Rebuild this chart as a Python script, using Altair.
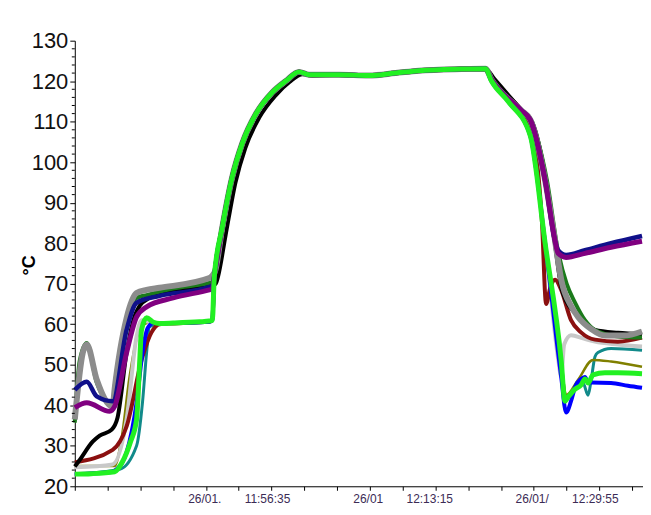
import altair as alt
import pandas as pd

# ---- data (time in seconds from start of axis, temperature in °C) ----
mid_t = [1021, 1106, 1204, 1289, 1368, 1429, 1611, 1793, 1957, 2097, 2359, 2505]
mid_v = [104.6, 112, 117.2, 120.1, 122.3, 121.6, 121.6, 121.4, 122, 122.6, 123, 123.1]

lower_rise_t = [839, 851, 900, 960]
lower_rise_v = [61, 71.7, 84, 96.3]
upper_rise_t = [855, 900, 960]
upper_rise_v = [73, 84, 96.3]

fast_drop_t = [2541, 2644, 2778, 2869]
fast_drop_v = [120.1, 115, 106.6, 80]
slow_drop_t = [2541, 2723, 2778, 2869, 2930]
slow_drop_v = [120.5, 112.8, 110.5, 95.5, 80.5]

teal_t = [0, 274, 377, 413, 438, 456, 517, 760, 821] + lower_rise_t + mid_t + fast_drop_t + [2967, 2997, 3052, 3100, 3131, 3149, 3173, 3191, 3271, 3460]
teal_v = [23, 24.2, 30, 40.7, 53, 59.4, 60.2, 60.5, 60.6] + lower_rise_v + mid_v + fast_drop_v + [51, 41.5, 44, 45.5, 42.5, 46, 52, 53, 54, 53.6]

olive_t = [0, 243, 286, 334, 395, 456, 600, 821] + lower_rise_t + mid_t + fast_drop_t + [2967, 2997, 3070, 3161, 3271, 3460]
olive_v = [25, 25, 32, 47, 58.6, 60.5, 60.3, 60.6] + lower_rise_v + mid_v + fast_drop_v + [51, 42.5, 46.3, 51.2, 50.8, 49.5]

lgrey_t = [0, 231, 316, 377, 407, 480, 600, 821] + lower_rise_t + mid_t + fast_drop_t + [2950, 2967, 2985, 3027, 3100, 3173, 3313, 3460]
lgrey_v = [24.7, 25.4, 36.5, 57, 61, 60.3, 60.3, 60.6] + lower_rise_v + mid_v + fast_drop_v + [51, 47, 55, 57.3, 56.5, 55.7, 55, 54.5]

maroon_t = [0, 231, 316, 413, 468, 517, 600, 760, 821] + lower_rise_t + mid_t + [2541, 2723, 2778, 2850, 2875, 2900, 2930, 2967, 3027, 3088, 3173, 3313, 3460]
maroon_v = [25.9, 29, 34.8, 52, 58, 60, 60.2, 60.5, 60.6] + lower_rise_v + mid_v + [120.5, 112.8, 109, 85, 65, 69, 71, 68.5, 61, 58, 56.2, 55.7, 56.7]

black_t = [0, 30, 109, 152, 225, 261, 316, 365, 395, 456, 578, 760, 821, 860, 875, 920, 980, 1040, 1125, 1225, 1310, 1390, 1450] + mid_t[6:] + [2560, 2723, 2790, 2880, 2930, 2967, 3000, 3052, 3112, 3173, 3313, 3460]
black_v = [24.9, 26.5, 31, 32.5, 34, 37, 53, 62, 64.5, 66.5, 68, 69, 69.5, 70, 72, 82, 95, 103.5, 111, 116.5, 119.8, 121.7, 121.3] + mid_v[6:] + [120.5, 113, 110, 94, 79.5, 69.2, 65.5, 62.8, 60, 58.6, 57.9, 57.6]

green_t = [0, 30, 73, 134, 231, 243, 316, 377, 438, 600, 821, 839] + upper_rise_t + mid_t + [2541, 2723, 2778, 2880, 2948, 3000, 3052, 3112, 3173, 3313, 3460]
green_v = [35.7, 51, 55.4, 45.6, 40.2, 44.6, 61, 66.5, 67.2, 68.8, 70.2, 70.4] + upper_rise_v + mid_v + [120.5, 112.8, 110.5, 95.5, 78, 70, 65.3, 61, 58.6, 57, 56.7]

grey_t = [0, 49, 73, 134, 231, 243, 316, 377, 438, 517, 821, 839] + upper_rise_t + mid_t + slow_drop_t + [2967, 3027, 3070, 3150, 3234, 3350, 3460]
grey_v = [36.5, 53, 55, 46.3, 39.7, 44, 61.5, 67.7, 68.5, 69, 71.4, 72] + upper_rise_v + mid_v + slow_drop_v + [71, 64.5, 61.8, 58.8, 57.2, 57.2, 58.2]

navy_t = [0, 73, 134, 231, 316, 377, 517, 821, 839] + upper_rise_t + mid_t + slow_drop_t + [2948, 2997, 3112, 3271, 3460]
navy_v = [43.8, 45.8, 42.2, 41, 58.6, 65.3, 67, 69.2, 69.5] + upper_rise_v + mid_v + slow_drop_v + [78.3, 77.1, 78.3, 80, 81.8]

purple_t = [0, 73, 213, 243, 316, 377, 438, 600, 821, 839] + upper_rise_t + mid_t + slow_drop_t + [2948, 2997, 3112, 3271, 3460]
purple_v = [39.4, 40.6, 38.5, 39.7, 53, 61.8, 64.3, 66.5, 68.5, 68.7] + upper_rise_v + mid_v + slow_drop_v + [77.5, 76.5, 77.5, 79, 80.5]

blue_t = [0, 225, 255, 316, 377, 413, 444, 480, 600, 821] + lower_rise_t + mid_t + fast_drop_t + [2967, 2997, 3027, 3052, 3088, 3112, 3131, 3149, 3271, 3374, 3460]
blue_v = [23, 23.5, 24.2, 28.4, 40.7, 53, 59, 60.3, 60.3, 60.6] + lower_rise_v + mid_v + fast_drop_v + [47, 38.2, 41, 44.5, 46.5, 47, 45.6, 45.6, 45.5, 44.8, 44.3]

lime_t = [0, 100, 243, 290, 340, 377, 395, 407, 438, 480, 517, 600, 760, 821] + lower_rise_t + mid_t + fast_drop_t + [2967, 2990, 3009, 3052, 3088, 3112, 3131, 3161, 3234, 3313, 3460]
lime_v = [23, 23.1, 23.6, 26, 31, 36.5, 50, 58.6, 61.6, 60.5, 60.2, 60.3, 60.6, 60.8] + lower_rise_v + mid_v + fast_drop_v + [51, 41, 42, 44, 45, 46.5, 45.5, 47.5, 48, 48, 47.8]

series = [
    ("teal", teal_t, teal_v, "#118a8a", 3),
    ("olive", olive_t, olive_v, "#808000", 2.5),
    ("lightgrey", lgrey_t, lgrey_v, "#c8c8c8", 4),
    ("maroon", maroon_t, maroon_v, "#8b1010", 4),
    ("black", black_t, black_v, "#000000", 4),
    ("green", green_t, green_v, "#1a7a1a", 4),
    ("grey", grey_t, grey_v, "#8c8c8c", 6),
    ("navy", navy_t, navy_v, "#10108a", 4.5),
    ("purple", purple_t, purple_v, "#800080", 5),
    ("blue", blue_t, blue_v, "#0000ff", 4),
    ("lime", lime_t, lime_v, "#22f022", 5),
]

y_major = list(range(20, 131, 10))
y_minor = [v for v in range(22, 130, 2) if v % 10 != 0]
x_ticks = list(range(0, 3401, 200))
nb = "\u00a0" * 7
x_labels = {1000: "26/01." + nb + "11:56:35", 2000: "26/01" + nb + "12:13:15", 3000: "26/01/" + nb + "12:29:55"}

label_expr = " : ".join(f"datum.value == {k} ? '{v}'" for k, v in x_labels.items()) + " : ''"

x_scale = alt.Scale(domain=[0, 3466], nice=False, zero=False)
y_scale = alt.Scale(domain=[20, 130], nice=False, zero=False)

x_axis = alt.Axis(values=x_ticks, labelExpr=label_expr, title=None, grid=False,
                  labelOverlap=False, labelFlush=False, tickSize=4, tickColor="black",
                  domainColor="black", labelColor="#3b2b55", labelFontSize=12,
                  labelFont="Liberation Sans", labelPadding=3)
y_axis = alt.Axis(values=y_major, title="°C", grid=False, tickSize=5, tickColor="black",
                  domainColor="black", labelColor="#111111", labelFontSize=22,
                  labelFont="Liberation Sans", labelPadding=2, titleFontSize=18,
                  titleFont="Liberation Sans", titleFontWeight="bold", titleX=-45,
                  titleY=225, titleAlign="center", titleBaseline="middle", titleAngle=270)

layers = []
for name, ts, vs, col, w in series:
    df = pd.DataFrame({"t": ts, "v": vs, "s": name})
    layers.append(
        alt.Chart(df).mark_line(color=col, strokeWidth=w, strokeJoin="round",
                                interpolate="monotone").encode(
            x=alt.X("t:Q", scale=x_scale, axis=x_axis),
            y=alt.Y("v:Q", scale=y_scale, axis=y_axis),
        )
    )

minor = alt.Chart(pd.DataFrame({"v": y_minor})).mark_rule(color="black", strokeWidth=1).encode(
    y=alt.Y("v:Q", scale=y_scale, axis=y_axis),
    x=alt.value(-3), x2=alt.value(0),
)
layers.append(minor)

chart = alt.layer(*layers).properties(
    width=570, height=447,
    autosize=alt.AutoSizeParams(type="none"),
    padding={"left": 67, "top": 32, "right": 0, "bottom": 20},
    background="white",
).configure_view(stroke=None)

chart.save("out.html", embed_options={"renderer": "svg", "actions": False})
